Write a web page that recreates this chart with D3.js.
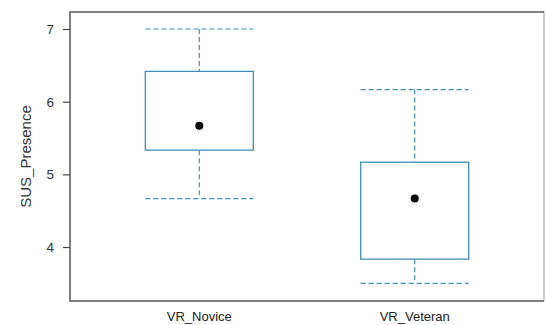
<!DOCTYPE html>
<html><head><meta charset="utf-8">
<script src="https://cdn.jsdelivr.net/npm/d3@7"></script>
<style>body{margin:0;background:#fff}svg{display:block}text{font-family:"Liberation Sans",Arial,sans-serif}</style>
</head><body><svg id="c" width="546" height="325"></svg>
<script>
const categories = ["VR_Novice", "VR_Veteran"];
const whiskerLow = [4.667, 3.5];
const q1 = [5.333, 3.833];
const meanVal = [5.667, 4.667];
const q3 = [6.417, 5.167];
const whiskerHigh = [7, 6.167];
const yTicks = [4, 5, 6, 7];

const svg = d3.select("#c");
const L = 70, R = 544, T = 12, B = 301;
const y = d3.scaleLinear().domain([3.257, 7.234]).range([B, T]);
const x = d3.scalePoint().domain(categories).range([L, R]).padding(0.6);
const halfW = 54;
const col = "#3f8fb8";

// frame
svg.append("line").attr("x1", R).attr("x2", R).attr("y1", T).attr("y2", B).attr("stroke", "#aaa").attr("stroke-width", 1.2);
svg.append("path").attr("d", `M${R},${T}H${L}V${B}H${R}`).attr("fill", "none").attr("stroke", "#555").attr("stroke-width", 1.5);

// y axis ticks
const ya = svg.append("g").attr("transform", `translate(${L},0)`)
  .call(d3.axisLeft(y).tickValues(yTicks).tickSize(7).tickPadding(9).tickFormat(d3.format("d")));
ya.select(".domain").remove();
ya.selectAll("line").attr("stroke", "#444").attr("stroke-width", 1.2);
ya.selectAll("text").attr("font-size", 13.5).attr("fill", "#333");

// x labels
categories.forEach(c => {
  svg.append("text").attr("x", x(c)).attr("y", 321).attr("text-anchor", "middle")
    .attr("font-size", 13).attr("fill", "#222").text(c);
});

// y title
svg.append("text").attr("transform", `translate(31,${(T + B) / 2}) rotate(-90)`)
  .attr("text-anchor", "middle").attr("font-size", 15).attr("fill", "#333").text("SUS_Presence");

categories.forEach((c, i) => {
  const cx = x(c);
  const g = svg.append("g");
  // whiskers
  g.append("line").attr("x1", cx).attr("x2", cx).attr("y1", y(whiskerHigh[i])).attr("y2", y(q3[i]))
    .attr("stroke", col).attr("stroke-width", 1.2).attr("stroke-dasharray", "5,3");
  g.append("line").attr("x1", cx).attr("x2", cx).attr("y1", y(q1[i])).attr("y2", y(whiskerLow[i]))
    .attr("stroke", col).attr("stroke-width", 1.2).attr("stroke-dasharray", "5,3");
  [whiskerHigh[i], whiskerLow[i]].forEach(v => {
    g.append("line").attr("x1", cx - halfW).attr("x2", cx + halfW).attr("y1", y(v)).attr("y2", y(v))
      .attr("stroke", col).attr("stroke-width", 1.2).attr("stroke-dasharray", "5,3");
  });
  g.append("rect").attr("x", cx - halfW).attr("width", 2 * halfW)
    .attr("y", y(q3[i])).attr("height", y(q1[i]) - y(q3[i]))
    .attr("fill", "none").attr("stroke", col).attr("stroke-width", 1.3);
  g.append("circle").attr("cx", cx).attr("cy", y(meanVal[i])).attr("r", 4).attr("fill", "#000");
});
</script></body></html>
